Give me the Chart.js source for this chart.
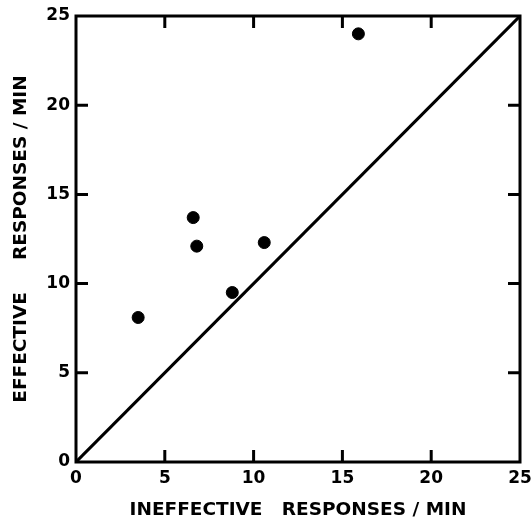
<!DOCTYPE html>
<html>
<head>
<meta charset="utf-8">
<script src="https://cdn.jsdelivr.net/npm/chart.js@4"></script>
<style>
  html, body { margin: 0; padding: 0; background: #fff; }
  #graficaContainer { width: 532px; height: 519px; }
</style>
</head>
<body>
<div id="graficaContainer"><canvas id="grafica"></canvas></div>
<script>
// Respuestas por minuto de cada sujeto
const ineffective = [3.5, 6.6, 6.8, 8.8, 10.6, 15.9];
const effective = [8.1, 13.7, 12.1, 9.5, 12.3, 24.0];

// Recta de igualdad (efectivas = inefectivas)
const identityX = [0, 25];
const identityY = [0, 25];

const tickValues = [0, 5, 10, 15, 20, 25];
const innerTicks = [5, 10, 15, 20];

const tickFont = { family: 'DejaVu Sans', size: 17, weight: 'bold' };
const titleFont = { family: 'DejaVu Sans', size: 18.5, weight: 'bold' };

// Marco cerrado con marcas hacia dentro en los cuatro lados
const marcoPlugin = {
    id: 'marco',
    beforeDatasetsDraw(chart) {
        const { ctx, chartArea: a, scales } = chart;
        const len = 12;
        ctx.save();
        ctx.strokeStyle = '#000';
        ctx.lineWidth = 3;
        ctx.lineCap = 'square';
        ctx.strokeRect(a.left, a.top, a.right - a.left, a.bottom - a.top);
        ctx.lineCap = 'butt';
        ctx.beginPath();
        innerTicks.forEach(v => {
            const px = scales.x.getPixelForValue(v);
            ctx.moveTo(px, a.bottom); ctx.lineTo(px, a.bottom - len);
            ctx.moveTo(px, a.top); ctx.lineTo(px, a.top + len);
            const py = scales.y.getPixelForValue(v);
            ctx.moveTo(a.left, py); ctx.lineTo(a.left + len, py);
            ctx.moveTo(a.right, py); ctx.lineTo(a.right - len, py);
        });
        ctx.stroke();
        ctx.restore();
    }
};

function generarGrafica() {
    const ctx = document.getElementById('grafica').getContext('2d');

    new Chart(ctx, {
        type: 'scatter',
        data: {
            datasets: [
                {
                    data: ineffective.map((x, i) => ({ x: x, y: effective[i] })),
                    backgroundColor: '#000',
                    borderColor: '#000',
                    pointRadius: 6,
                    pointHoverRadius: 6,
                },
                {
                    type: 'line',
                    data: identityX.map((x, i) => ({ x: x, y: identityY[i] })),
                    borderColor: '#000',
                    borderWidth: 3,
                    pointRadius: 0,
                    fill: false,
                },
            ],
        },
        options: {
            responsive: true,
            maintainAspectRatio: false,
            animation: false,
            layout: {
                padding: { left: 0, top: 16, right: 12, bottom: 0 },
            },
            plugins: {
                legend: { display: false },
                tooltip: { enabled: false },
            },
            scales: {
                x: {
                    type: 'linear',
                    min: 0,
                    max: 25,
                    border: { display: false },
                    grid: { display: false, drawTicks: false },
                    afterBuildTicks: s => { s.ticks = tickValues.map(v => ({ value: v })); },
                    afterFit: s => {
                        s.height = 57;
                        s.paddingLeft = 0;
                        s.paddingRight = 0;
                    },
                    ticks: {
                        color: '#000',
                        font: tickFont,
                        padding: 6,
                        maxRotation: 0,
                        autoSkip: false,
                    },
                    title: {
                        display: true,
                        text: 'INEFFECTIVE   RESPONSES / MIN',
                        color: '#000',
                        font: titleFont,
                        padding: { top: 4, bottom: -2 },
                    },
                },
                y: {
                    type: 'linear',
                    min: 0,
                    max: 25,
                    border: { display: false },
                    grid: { display: false, drawTicks: false },
                    afterBuildTicks: s => { s.ticks = tickValues.map(v => ({ value: v })); },
                    afterFit: s => {
                        s.width = 76;
                        s.paddingTop = 0;
                        s.paddingBottom = 0;
                    },
                    ticks: {
                        color: '#000',
                        font: tickFont,
                        padding: 6,
                        autoSkip: false,
                    },
                    title: {
                        display: true,
                        text: 'EFFECTIVE     RESPONSES / MIN',
                        color: '#000',
                        font: titleFont,
                        padding: { top: 10, bottom: 0 },
                    },
                },
            },
        },
        plugins: [marcoPlugin],
    });
}

document.addEventListener('DOMContentLoaded', generarGrafica);
</script>
</body>
</html>
